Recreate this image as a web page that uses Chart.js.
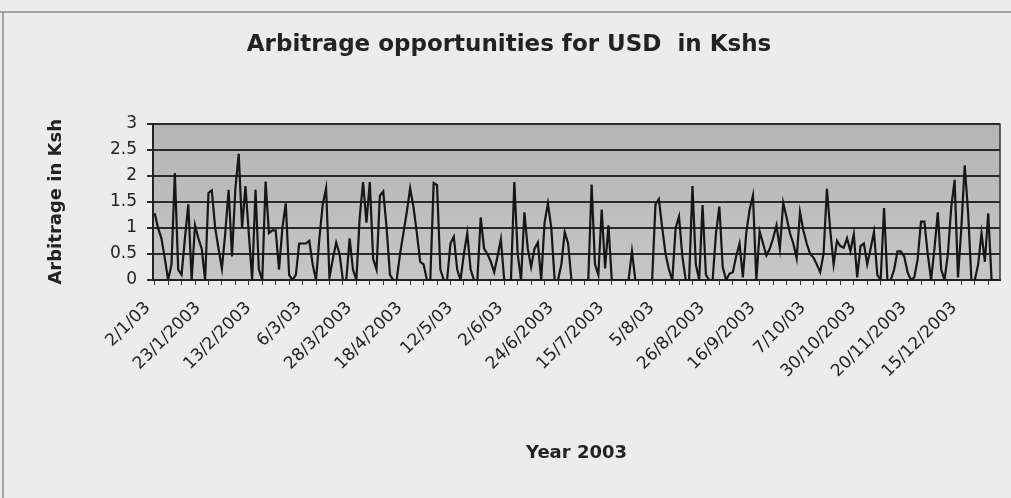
<!DOCTYPE html>
<html>
<head>
<meta charset="utf-8">
<title>Arbitrage opportunities for USD in Kshs</title>
<script src="https://cdn.jsdelivr.net/npm/chart.js@4.4.1/dist/chart.umd.min.js"></script>
<style>
  html, body { margin: 0; padding: 0; background: #ececec; }
</style>
</head>
<body>
<canvas id="arb" width="1011" height="498"></canvas>
<script>
// dates shown on the axis, one every 15 trading days
const tickLabels = [
    '2/1/03', '23/1/2003', '13/2/2003', '6/3/03', '28/3/2003', '18/4/2003',
    '12/5/03', '2/6/03', '24/6/2003', '15/7/2003', '5/8/03', '26/8/2003',
    '16/9/2003', '7/10/03', '30/10/2003', '20/11/2003', '15/12/2003'
];
const labelEvery = 15;

// daily arbitrage in Ksh per USD, 2003
const arbitrage = [
    1.28, 1.0, 0.8, 0.42, 0.0, 0.3, 2.05, 0.2, 0.1, 0.8,
    1.45, 0.0, 1.05, 0.8, 0.6, 0.0, 1.67, 1.72, 1.0, 0.6,
    0.22, 0.9, 1.73, 0.45, 1.75, 2.42, 1.0, 1.8, 0.9, 0.0,
    1.73, 0.2, 0.0, 1.89, 0.9, 0.95, 0.95, 0.2, 1.0, 1.47,
    0.1, 0.0, 0.1, 0.7, 0.7, 0.7, 0.75, 0.3, 0.0, 0.8,
    1.45, 1.76, 0.05, 0.4, 0.72, 0.5, 0.0, 0.0, 0.8, 0.2,
    0.0, 1.2, 1.88, 1.1, 1.88, 0.4, 0.2, 1.62, 1.7, 1.0,
    0.1, 0.0, 0.0, 0.5, 0.9, 1.3, 1.76, 1.4, 0.9, 0.35,
    0.3, 0.0, 0.0, 1.86, 1.82, 0.2, 0.0, 0.0, 0.7, 0.83,
    0.2, 0.0, 0.5, 0.9, 0.2, 0.0, 0.0, 1.2, 0.6, 0.5,
    0.35, 0.15, 0.45, 0.78, 0.0, 0.0, 0.0, 1.88, 0.5, 0.0,
    1.3, 0.6, 0.25, 0.6, 0.72, 0.0, 1.1, 1.47, 1.0, 0.0,
    0.0, 0.3, 0.92, 0.7, 0.0, 0.0, 0.0, 0.0, 0.0, 0.0,
    1.83, 0.3, 0.1, 1.35, 0.22, 1.05, 0.0, 0.0, 0.0, 0.0,
    0.0, 0.0, 0.55, 0.0, 0.0, 0.0, 0.0, 0.0, 0.0, 1.45,
    1.55, 1.0, 0.5, 0.2, 0.0, 1.0, 1.22, 0.45, 0.0, 0.0,
    1.8, 0.3, 0.0, 1.44, 0.1, 0.0, 0.0, 0.9, 1.41, 0.25,
    0.0, 0.12, 0.15, 0.45, 0.7, 0.05, 0.9, 1.35, 1.62, 0.0,
    0.93, 0.7, 0.47, 0.6, 0.8, 1.05, 0.6, 1.48, 1.2, 0.9,
    0.7, 0.42, 1.3, 0.95, 0.7, 0.5, 0.43, 0.3, 0.15, 0.5,
    1.75, 0.95, 0.3, 0.75, 0.65, 0.62, 0.8, 0.55, 0.88, 0.05,
    0.65, 0.7, 0.3, 0.6, 0.92, 0.1, 0.0, 1.38, 0.0, 0.0,
    0.2, 0.55, 0.55, 0.45, 0.15, 0.0, 0.05, 0.4, 1.12, 1.12,
    0.5, 0.0, 0.6, 1.3, 0.2, 0.0, 0.5, 1.4, 1.92, 0.05,
    1.0, 2.2, 1.3, 0.0, 0.0, 0.3, 0.9, 0.35, 1.28, 0.0,
    0.0, 0.0
];

const categories = arbitrage.map((_, i) => i % labelEvery === 0 ? tickLabels[i / labelEvery] : '');

const FONT = "'DejaVu Sans', sans-serif";
const INK = '#222';

// page fill, outer frame and the grey plot area
const backdrop = {
    id: 'backdrop',
    beforeDraw(chart) {
        const { ctx, chartArea: a, width, height } = chart;
        ctx.save();
        ctx.fillStyle = '#ececec';
        ctx.fillRect(0, 0, width, height);

        ctx.strokeStyle = '#8a8a8a';
        ctx.lineWidth = 1.5;
        ctx.beginPath();
        ctx.moveTo(0, 12); ctx.lineTo(width, 12);
        ctx.moveTo(3, 12); ctx.lineTo(3, height);
        ctx.stroke();

        const g = ctx.createLinearGradient(0, a.top, 0, a.bottom);
        g.addColorStop(0, '#b4b4b4');
        g.addColorStop(1, '#c6c6c6');
        ctx.fillStyle = g;
        ctx.fillRect(a.left, a.top, a.right - a.left, a.bottom - a.top);
        ctx.restore();
    },
    afterDraw(chart) {
        const { ctx, chartArea: a } = chart;
        ctx.save();
        ctx.strokeStyle = '#333';
        ctx.lineWidth = 1.5;
        ctx.beginPath();
        ctx.moveTo(a.right, a.top); ctx.lineTo(a.right, a.bottom);
        ctx.stroke();
        ctx.restore();
    }
};

new Chart(document.getElementById('arb'), {
    type: 'line',
    data: {
        labels: categories,
        datasets: [{
            data: arbitrage,
            borderColor: '#161616',
            borderWidth: 2.2,
            pointRadius: 0,
            tension: 0
        }]
    },
    options: {
        responsive: false,
        animation: false,
        layout: { padding: { left: 18, right: 11, top: 10, bottom: 30 } },
        plugins: {
            legend: { display: false },
            tooltip: { enabled: false },
            title: {
                display: true,
                text: 'Arbitrage opportunities for USD  in Kshs',
                color: INK,
                font: { family: FONT, size: 23, weight: 'bold' },
                padding: { top: 21, bottom: 65 }
            }
        },
        scales: {
            x: {
                offset: true,
                grid: {
                    drawOnChartArea: false,
                    tickLength: 5,
                    color: ctx => ctx.index % 4 === 0 ? '#333' : 'rgba(0,0,0,0)'
                },
                border: { color: '#222', width: 2 },
                ticks: {
                    autoSkip: false,
                    minRotation: 45,
                    maxRotation: 45,
                    padding: 13,
                    labelOffset: -7,
                    color: INK,
                    font: { family: FONT, size: 17 }
                },
                title: {
                    display: true,
                    text: 'Year 2003',
                    color: INK,
                    font: { family: FONT, size: 18, weight: 'bold' },
                    padding: { top: 0, bottom: 4 }
                },
                afterFit: scale => {
                    scale.height = 188;
                    scale.paddingRight = 0;
                }
            },
            y: {
                min: 0,
                max: 3,
                ticks: {
                    stepSize: 0.5,
                    padding: 10,
                    color: INK,
                    font: { family: FONT, size: 17 },
                    callback: v => String(v)
                },
                grid: { color: '#2a2a2a', lineWidth: 2, tickLength: 6 },
                border: { color: '#222', width: 2 },
                title: {
                    display: true,
                    text: 'Arbitrage in Ksh',
                    color: INK,
                    font: { family: FONT, size: 18, weight: 'bold' },
                    padding: { top: 28, bottom: 0 }
                },
                afterFit: scale => { scale.width = 135; }
            }
        }
    },
    plugins: [backdrop]
});
</script>
</body>
</html>
